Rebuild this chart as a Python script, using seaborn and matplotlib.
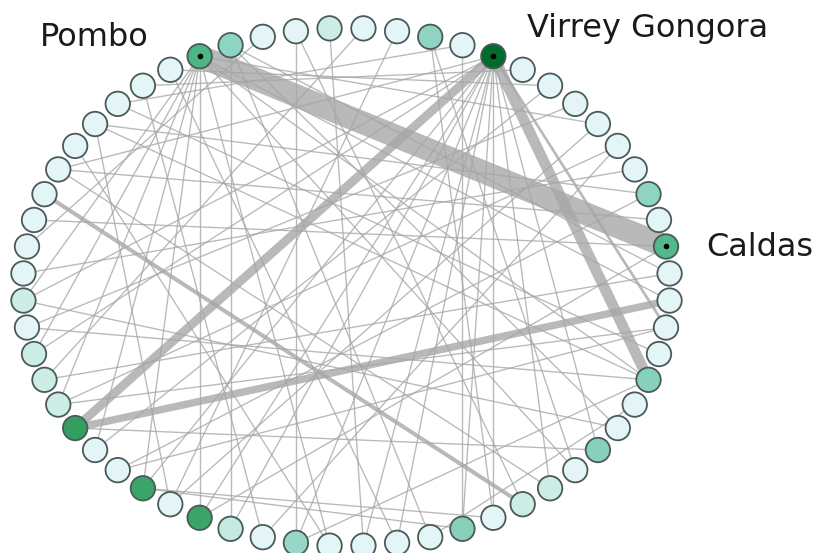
import numpy as np
import pandas as pd
import matplotlib
matplotlib.use('Agg')
import matplotlib.pyplot as plt
import seaborn as sns

# 60 estaciones en disposicion circular (1 = Pombo, sentido horario)
n_nodos = 60
etiquetas = {1: 'Pombo', 10: 'Virrey Gongora', 19: 'Caldas'}

# intensidad de color de cada nodo (0-1, escala BuGn)
nivel = [0.58, 0.40, 0.13, 0.13, 0.25, 0.13, 0.13, 0.40, 0.13, 0.88,
         0.13, 0.13, 0.13, 0.13, 0.13, 0.13, 0.40, 0.13, 0.56, 0.13,
         0.13, 0.13, 0.13, 0.42, 0.13, 0.13, 0.42, 0.13, 0.25, 0.25,
         0.13, 0.42, 0.13, 0.13, 0.13, 0.13, 0.38, 0.13, 0.27, 0.66,
         0.13, 0.66, 0.13, 0.13, 0.68, 0.25, 0.25, 0.25, 0.13, 0.25,
         0.13, 0.13, 0.13, 0.13, 0.13, 0.13, 0.13, 0.13, 0.13, 0.13]

# aristas: origen, destino, peso (numero de viajes)
origen = [1, 10, 10, 45, 54, 10,
          1, 1, 1, 1, 1, 1, 1, 1, 1, 1, 1,
          2, 2, 2, 2, 3, 4, 4, 5, 6, 7, 8, 8, 9, 9,
          10, 10, 10, 10, 10, 10, 10, 10, 10, 10, 10, 10, 10,
          11, 12, 12, 13, 14, 15, 16, 17, 17, 18,
          19, 19, 20, 22, 24, 24, 24, 25, 26, 27,
          29, 31, 32, 34, 36, 38, 57, 58, 43, 46]
destino = [19, 24, 45, 21, 30, 22,
           40, 42, 44, 46, 48, 50, 36, 28, 24, 21, 14,
           39, 33, 26, 20, 52, 37, 30, 35, 47, 41, 31, 28, 32, 58,
           40, 42, 39, 37, 35, 34, 32, 31, 29, 48, 55, 27, 50,
           59, 44, 60, 49, 41, 38, 51, 43, 57, 55,
           53, 40, 47, 46, 57, 49, 37, 33, 50, 45,
           55, 42, 42, 60, 56, 59, 41, 23, 22, 15]
peso = [17, 8, 6.5, 5.5, 3, 2] + [1] * (len(origen) - 6)

# posiciones en el circulo
cx, cy, rx, ry = 346.5, 287.0, 323.5, 259.0
idx = np.arange(1, n_nodos + 1)
ang = np.deg2rad(90 - (idx - 5.5) * 6)
nodos = pd.DataFrame({'id': idx,
                      'x': cx + rx * np.cos(ang),
                      'y': cy - ry * np.sin(ang),
                      'nivel': nivel})
pos = nodos.set_index('id')

fig = plt.figure(figsize=(8.18, 5.53), dpi=100)
ax = fig.add_axes([0, 0, 1, 1])

for a, b, w in zip(origen, destino, peso):
    ax.plot([pos.x[a], pos.x[b]], [pos.y[a], pos.y[b]],
            color='#a6a6a6', lw=1.35 * w * 0.72, alpha=0.78,
            solid_capstyle='butt', zorder=1)

sns.scatterplot(data=nodos, x='x', y='y', hue='nivel', palette='BuGn',
                hue_norm=(0, 1), s=310, edgecolor='#4a5a57', linewidth=1.3,
                legend=False, ax=ax, zorder=3)

# punto negro en las estaciones destacadas
for i in etiquetas:
    ax.scatter(pos.x[i], pos.y[i], s=9, color='black', zorder=4)

ax.text(40, 37, 'Pombo', fontsize=23, color='#1a1a1a', va='center', ha='left')
ax.text(527, 28, 'Virrey Gongora', fontsize=23, color='#1a1a1a', va='center', ha='left')
ax.text(706, 247, 'Caldas', fontsize=23, color='#1a1a1a', va='center', ha='left')

ax.set_xlim(0, 818)
ax.set_ylim(553, 0)
ax.axis('off')
fig.savefig('out.png', dpi=100)
